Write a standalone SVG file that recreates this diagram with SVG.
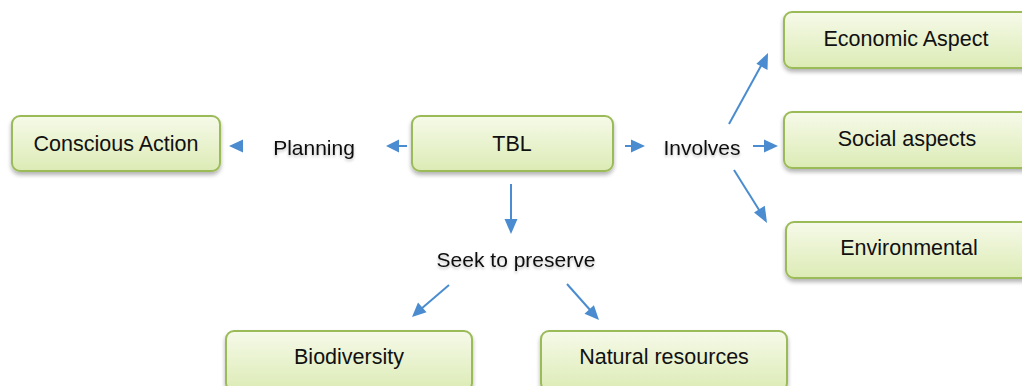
<svg xmlns="http://www.w3.org/2000/svg" width="1022" height="386" viewBox="0 0 1022 386">
<style>
.box{fill:url(#g);stroke:#9bbb59;stroke-width:2;filter:url(#sh)}
.t{font-family:"Liberation Sans",Arial,sans-serif;font-size:21.5px;fill:#111;text-anchor:middle}
.lbl{font-family:"Liberation Sans",Arial,sans-serif;font-size:21px;fill:#111;text-anchor:middle;filter:url(#ts)}
.ln{stroke:#4a8ccf;stroke-width:2;fill:none}
.hd{fill:#4a8ccf}
</style>
<defs>
<linearGradient id="g" x1="0" y1="0" x2="0" y2="1">
<stop offset="0" stop-color="#f6fae9"/>
<stop offset="1" stop-color="#dcebb5"/>
</linearGradient>
<filter id="sh" x="-10%" y="-20%" width="120%" height="150%">
<feGaussianBlur in="SourceAlpha" stdDeviation="2"/>
<feOffset dx="0" dy="3" result="b"/>
<feComponentTransfer><feFuncA type="linear" slope="0.3"/></feComponentTransfer>
<feMerge><feMergeNode/><feMergeNode in="SourceGraphic"/></feMerge>
</filter>
<filter id="ts" x="-10%" y="-30%" width="120%" height="170%">
<feGaussianBlur in="SourceAlpha" stdDeviation="1.5"/>
<feOffset dx="0" dy="2"/>
<feComponentTransfer><feFuncA type="linear" slope="0.25"/></feComponentTransfer>
<feMerge><feMergeNode/><feMergeNode in="SourceGraphic"/></feMerge>
</filter>
</defs>
<g id="connectors">
<path class="ln" d="M407,146 L390,146"/>
<polygon class="hd" points="386,146 399,139.5 399,152.5"/>
<polygon class="hd" points="229,146 243,139.5 243,152.5"/>
<path class="ln" d="M625,146 L633,146"/>
<polygon class="hd" points="645,146 631,139.5 631,152.5"/>
<path class="ln" d="M753,146 L765,146"/>
<polygon class="hd" points="778,146 764,139.5 764,152.5"/>
<path class="ln" d="M729,124 L762,64"/>
<polygon class="hd" points="768,53 767.5,70 756.4,63.8"/>
<path class="ln" d="M734,170 L761,213"/>
<polygon class="hd" points="767,223 754,212.6 764.8,205.8"/>
<path class="ln" d="M511,184 L511,220"/>
<polygon class="hd" points="511,234 504.5,219 517.5,219"/>
<path class="ln" d="M449,285 L421,309"/>
<polygon class="hd" points="412,317 418,302.5 426.5,312.3"/>
<path class="ln" d="M567,284 L591,311"/>
<polygon class="hd" points="599,320 584.5,313.8 593.9,305.2"/>
</g>
<g id="conscious-action"><rect class="box" x="12" y="116" width="208" height="55" rx="8"/><text class="t" x="116" y="150.5">Conscious Action</text></g>
<g id="tbl"><rect class="box" x="412" y="116" width="201" height="55" rx="8"/><text class="t" x="512" y="150.5">TBL</text></g>
<g id="economic"><rect class="box" x="784" y="12" width="250" height="56" rx="8"/><text class="t" x="906" y="46">Economic Aspect</text></g>
<g id="social"><rect class="box" x="784" y="112" width="250" height="56" rx="8"/><text class="t" x="907" y="146">Social aspects</text></g>
<g id="environmental"><rect class="box" x="786" y="222" width="250" height="56" rx="8"/><text class="t" x="909" y="255">Environmental</text></g>
<g id="biodiversity"><rect class="box" x="226" y="331" width="246" height="60" rx="8"/><text class="t" x="349" y="364">Biodiversity</text></g>
<g id="natural-resources"><rect class="box" x="541" y="331" width="246" height="60" rx="8"/><text class="t" x="664" y="364">Natural resources</text></g>
<g id="planning"><text class="lbl" x="314" y="155">Planning</text></g>
<g id="involves"><text class="lbl" x="702" y="155">Involves</text></g>
<g id="seek"><text class="lbl" x="516" y="267">Seek to preserve</text></g>
</svg>
